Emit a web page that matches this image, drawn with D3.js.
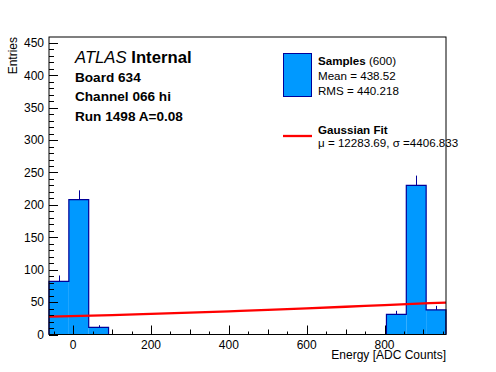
<!DOCTYPE html>
<html>
<head>
<meta charset="utf-8">
<script src="https://cdn.jsdelivr.net/npm/d3@7"></script>
<style>
  body { margin: 0; background: #fff; }
  svg { font-family: "Liberation Sans", Arial, Helvetica, sans-serif; }
</style>
</head>
<body>
<svg id="chart" width="496" height="372"></svg>
<script>
// histogram: 20 bins from -62 to 958 (ADC counts)
var binLow = -62;
var binWidth = 51;
var counts = [82, 208, 11, 0, 0, 0, 0, 0, 0, 0, 0, 0, 0, 0, 0, 0, 0, 31, 230, 38];
// gaussian fit curve
var fitX = [-62, 100, 200, 300, 400, 500, 600, 700, 800, 958];
var fitY = [27.5, 29.8, 31.7, 33.7, 35.8, 38.0, 40.3, 42.8, 45.4, 49.3];
var xTicks = [0, 200, 400, 600, 800];
var yTicks = [0, 50, 100, 150, 200, 250, 300, 350, 400, 450];
var infoLines = ['Board 634', 'Channel 066 hi', 'Run 1498 A=0.08'];

var svg = d3.select('#chart');
// frame edges (window.top is reserved, so own names)
var fL = 49, fR = 446, fT = 37, fB = 334.5;

var x = d3.scaleLinear().domain([-62, 958]).range([fL, fR]);
var y = d3.scaleLinear().domain([0, 459]).range([fB, fT]);

var fillCol = '#0099ff';
var lineCol = '#000099';

// bars
var bins = counts.map(function(c, i) {
  return {x0: binLow + i * binWidth, x1: binLow + (i + 1) * binWidth, n: c};
});

svg.append('g').selectAll('rect')
  .data(bins.filter(function(b) { return b.n > 0; }))
  .enter().append('rect')
  .attr('x', function(b) { return x(b.x0); })
  .attr('width', function(b) { return x(b.x1) - x(b.x0); })
  .attr('y', function(b) { return y(b.n); })
  .attr('height', function(b) { return y(0) - y(b.n); })
  .attr('fill', fillCol);

// outline as steps
var pts = [];
bins.forEach(function(b) {
  pts.push([x(b.x0), y(b.n)]);
  pts.push([x(b.x1), y(b.n)]);
});
pts.unshift([x(bins[0].x0), y(0)]);
pts.push([x(bins[bins.length - 1].x1), y(0)]);
svg.append('path')
  .attr('d', d3.line()(pts))
  .attr('fill', 'none')
  .attr('stroke', lineCol)
  .attr('stroke-width', 1.2);

// error bars (upper half only visible)
svg.append('g').selectAll('line')
  .data(bins.filter(function(b) { return b.n > 0; }))
  .enter().append('line')
  .attr('x1', function(b) { return Math.round(x((b.x0 + b.x1) / 2)) + 0.5; })
  .attr('x2', function(b) { return Math.round(x((b.x0 + b.x1) / 2)) + 0.5; })
  .attr('y1', function(b) { return y(b.n); })
  .attr('y2', function(b) { return y(b.n + Math.sqrt(b.n)); })
  .attr('stroke', lineCol)
  .attr('stroke-width', 1);

// fit
svg.append('path')
  .datum(fitX.map(function(v, i) { return [v, fitY[i]]; }))
  .attr('d', d3.line().curve(d3.curveMonotoneX)
    .x(function(d) { return x(d[0]); })
    .y(function(d) { return y(d[1]); }))
  .attr('fill', 'none')
  .attr('stroke', '#ff0000')
  .attr('stroke-width', 2.3);

// axes: ticks drawn by hand ROOT-style on top
var xAxis = svg.append('g');
d3.range(-50, 951, 50).forEach(function(v) {
  var len = v % 200 === 0 ? 9 : (v % 100 === 0 ? 5 : 3);
  var px = Math.round(x(v)) + 0.5;
  xAxis.append('line')
    .attr('x1', px).attr('x2', px)
    .attr('y1', fB).attr('y2', fB - len)
    .attr('stroke', '#000').attr('stroke-width', 1);
});
xAxis.selectAll('text')
  .data(xTicks)
  .enter().append('text')
  .attr('x', function(d) { return x(d); })
  .attr('y', 348.5)
  .attr('text-anchor', 'middle')
  .attr('font-size', 12)
  .text(function(d) { return d; });

var yAxis = svg.append('g');
d3.range(0, 459, 10).forEach(function(v) {
  var len = v % 50 === 0 ? 9 : 5;
  var py = Math.round(y(v)) + 0.5;
  yAxis.append('line')
    .attr('x1', fL).attr('x2', fL + len)
    .attr('y1', py).attr('y2', py)
    .attr('stroke', '#000').attr('stroke-width', 1);
});
yAxis.selectAll('text')
  .data(yTicks)
  .enter().append('text')
  .attr('x', 44)
  .attr('y', function(d) { return y(d) + 4.3; })
  .attr('text-anchor', 'end')
  .attr('font-size', 12)
  .text(function(d) { return d; });

// frame
svg.append('rect')
  .attr('x', fL).attr('y', fT)
  .attr('width', fR - fL).attr('height', fB - fT)
  .attr('fill', 'none')
  .attr('stroke', '#000')
  .attr('stroke-width', 1);

// axis titles
svg.append('text')
  .attr('x', fR).attr('y', 358.5)
  .attr('text-anchor', 'end')
  .attr('font-size', 12)
  .text('Energy [ADC Counts]');
svg.append('text')
  .attr('transform', 'translate(17,' + fT + ') rotate(-90)')
  .attr('text-anchor', 'end')
  .attr('font-size', 12)
  .text('Entries');

// ATLAS label
var atl = svg.append('text')
  .attr('x', 75).attr('y', 63)
  .attr('font-size', 16.7);
atl.append('tspan').attr('font-style', 'italic').text('ATLAS');
atl.append('tspan').attr('font-weight', 'bold').text(' Internal');

svg.selectAll('.info')
  .data(infoLines)
  .enter().append('text')
  .attr('class', 'info')
  .attr('x', 75)
  .attr('y', function(d, i) { return 82 + i * 19.3; })
  .attr('font-size', 13.6)
  .attr('font-weight', 'bold')
  .text(function(d) { return d; });

// legend
var leg = svg.append('g');
leg.append('rect')
  .attr('x', 283.5).attr('y', 53.5)
  .attr('width', 28).attr('height', 43)
  .attr('fill', fillCol)
  .attr('stroke', lineCol)
  .attr('stroke-width', 1);
var t1 = leg.append('text').attr('x', 318).attr('y', 65).attr('font-size', 11.6);
t1.append('tspan').attr('font-weight', 'bold').text('Samples');
t1.append('tspan').text(' (600)');
leg.append('text').attr('x', 318).attr('y', 80).attr('font-size', 11.6).text('Mean = 438.52');
leg.append('text').attr('x', 318).attr('y', 94.5).attr('font-size', 11.6).text('RMS = 440.218');
leg.append('line')
  .attr('x1', 283).attr('x2', 312)
  .attr('y1', 136).attr('y2', 136)
  .attr('stroke', '#ff0000').attr('stroke-width', 2.3);
leg.append('text').attr('x', 318).attr('y', 133.5).attr('font-size', 11.6)
  .attr('font-weight', 'bold').text('Gaussian Fit');
leg.append('text').attr('x', 318).attr('y', 146.5).attr('font-size', 11.6)
  .text('\u03bc = 12283.69, \u03c3 =4406.833');
</script>
</body>
</html>
